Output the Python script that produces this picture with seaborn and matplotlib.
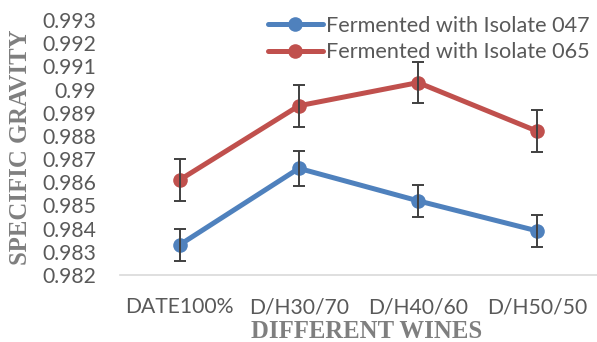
import matplotlib
matplotlib.use("Agg")
import matplotlib.pyplot as plt
import seaborn as sns
import pandas as pd

# values
wines = ['DATE100%', 'D/H30/70', 'D/H40/60', 'D/H50/50']
isolate_047 = [0.9833, 0.9866, 0.9852, 0.9839]
isolate_047_err = [0.0007, 0.00075, 0.0007, 0.0007]
isolate_065 = [0.9861, 0.9893, 0.9903, 0.9882]
isolate_065_err = [0.0009, 0.0009, 0.0009, 0.0009]
series_names = ['Fermented with Isolate 047', 'Fermented with Isolate 065']
y_ticks = [0.982, 0.983, 0.984, 0.985, 0.986, 0.987, 0.988, 0.989, 0.99, 0.991, 0.992, 0.993]
y_tick_labels = ['0.982', '0.983', '0.984', '0.985', '0.986', '0.987', '0.988', '0.989', '0.99', '0.991', '0.992', '0.993']

df = pd.DataFrame({
    'wine': wines * 2,
    'sg': isolate_047 + isolate_065,
    'err': isolate_047_err + isolate_065_err,
    'series': [series_names[0]] * 4 + [series_names[1]] * 4,
})

sns.set_style('white')
plt.rcParams['font.family'] = ['Lato', 'DejaVu Sans']

blue = '#4F81BD'
red = '#C0504D'
tick_grey = '#595959'

fig = plt.figure(figsize=(5.97, 3.42), dpi=100)
ax = fig.add_axes([120 / 597, 1 - 275 / 342, 477 / 597, 255 / 342])

sns.lineplot(data=df, x='wine', y='sg', hue='series', palette=[blue, red],
             marker='o', markersize=10.5, markeredgewidth=0, linewidth=3.6,
             ax=ax, sort=False)

# error bars on top of the markers
for name, grp in df.groupby('series'):
    ax.errorbar(grp['wine'], grp['sg'], yerr=grp['err'], fmt='none',
                ecolor='#404040', elinewidth=1.4, capsize=4, capthick=1.4, zorder=5)

ax.set_xlim(-0.5, 3.5)
ax.set_ylim(0.982, 0.993)
ax.set_yticks(y_ticks)
ax.set_yticklabels(y_tick_labels)
ax.tick_params(axis='y', length=0, pad=17, labelsize=15.2, labelcolor=tick_grey)
ax.tick_params(axis='x', length=0, pad=16, labelsize=15.2, labelcolor=tick_grey)

for side in ['top', 'right', 'left']:
    ax.spines[side].set_visible(False)
ax.spines['bottom'].set_color('#D9D9D9')
ax.spines['bottom'].set_linewidth(1.2)

ax.set_ylabel('SPECIFIC GRAVITY', family='Liberation Serif', fontweight='bold',
              fontsize=17.8, color='#7F7F7F', va='center')
ax.yaxis.set_label_coords(-99 / 477, 0.5)
ax.set_xlabel('DIFFERENT WINES', family='Liberation Serif', fontweight='bold',
              fontsize=17.8, color='#7F7F7F', va='center')
ax.xaxis.set_label_coords(0.516, -57 / 255)

leg = ax.legend(loc='upper left', bbox_to_anchor=(139 / 477, 1.05), frameon=False,
                fontsize=15.6, handlelength=2.55, handletextpad=0.12,
                labelspacing=0.3, borderaxespad=0)
for t in leg.get_texts():
    t.set_color(tick_grey)

fig.savefig('out.png', dpi=100)
